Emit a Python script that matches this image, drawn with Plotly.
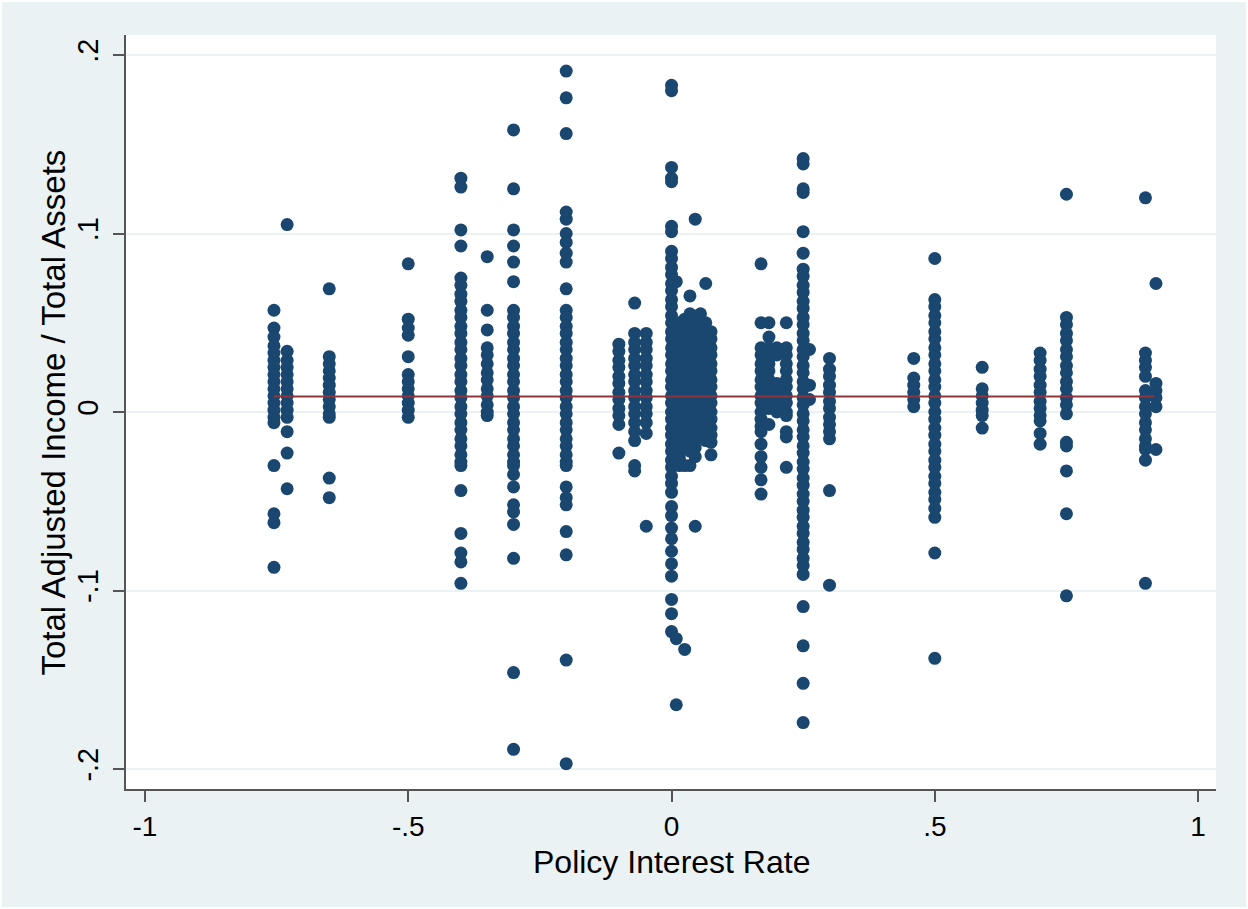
import plotly.graph_objects as go

# ---- data (policy rate -> list of income/asset ratios) ----
ratio_m0755 = [0.057, 0.047, 0.042, 0.037, 0.033, 0.029, 0.025, 0.021, 0.017, 0.013, 0.009, 0.005, 0.001, -0.003, -0.006, -0.030, -0.057, -0.062, -0.087]
ratio_m073 = [0.105, 0.034, 0.029, 0.025, 0.021, 0.017, 0.013, 0.009, 0.005, 0.001, -0.003, -0.011, -0.023, -0.043]
ratio_m065 = [0.069, 0.031, 0.027, 0.023, 0.019, 0.015, 0.011, 0.007, 0.003, -0.001, -0.003, -0.037, -0.048]
ratio_m050 = [0.083, 0.052, 0.047, 0.043, 0.031, 0.021, 0.017, 0.013, 0.009, 0.005, 0.001, -0.003]
ratio_m040 = [0.131, 0.126, 0.102, 0.093, 0.075, 0.071, 0.066, 0.062, 0.057, 0.053, 0.048, 0.044, 0.039, 0.035, 0.030, 0.026, 0.021, 0.017, 0.012, 0.008, 0.003, -0.001, -0.006, -0.010, -0.015, -0.019, -0.024, -0.028, -0.030, -0.044, -0.068, -0.079, -0.084, -0.096]
ratio_m035 = [0.087, 0.057, 0.046, 0.036, 0.032, 0.027, 0.022, 0.018, 0.013, 0.009, 0.004, 0.000, -0.002]
ratio_m030 = [0.158, 0.125, 0.102, 0.093, 0.084, 0.073, 0.057, 0.053, 0.048, 0.044, 0.039, 0.035, 0.030, 0.026, 0.021, 0.017, 0.012, 0.008, 0.003, -0.001, -0.006, -0.010, -0.015, -0.019, -0.024, -0.028, -0.030, -0.035, -0.042, -0.052, -0.056, -0.063, -0.082, -0.146, -0.189]
ratio_m020 = [0.191, 0.176, 0.156, 0.112, 0.108, 0.100, 0.095, 0.089, 0.084, 0.069, 0.057, 0.053, 0.048, 0.044, 0.039, 0.035, 0.030, 0.026, 0.021, 0.017, 0.012, 0.008, 0.003, -0.001, -0.006, -0.010, -0.015, -0.019, -0.024, -0.028, -0.030, -0.042, -0.048, -0.052, -0.067, -0.080, -0.139, -0.197]
ratio_m010 = [0.038, 0.034, 0.029, 0.025, 0.020, 0.016, 0.011, 0.007, 0.002, -0.002, -0.007, -0.023]
ratio_m007 = [0.061, 0.044, 0.039, 0.035, 0.030, 0.026, 0.021, 0.017, 0.012, 0.008, 0.003, -0.001, -0.006, -0.011, -0.016, -0.030, -0.033]
ratio_m005 = [0.044, 0.039, 0.035, 0.030, 0.026, 0.021, 0.017, 0.012, 0.008, 0.003, -0.001, -0.006, -0.012, -0.064]
ratio_000 = [0.183, 0.180, 0.137, 0.131, 0.129, 0.104, 0.101, 0.090, 0.086, 0.081, 0.077, 0.072, 0.068, 0.063, 0.059, 0.054, 0.050, 0.045, 0.041, 0.036, 0.032, 0.027, 0.023, 0.018, 0.014, 0.009, 0.005, 0.000, -0.004, -0.009, -0.013, -0.018, -0.022, -0.027, -0.031, -0.036, -0.040, -0.045, -0.053, -0.058, -0.065, -0.071, -0.078, -0.085, -0.092, -0.105, -0.113, -0.123]
ratio_0009 = [0.073, -0.127, -0.164]
ratio_0015 = [0.050, 0.046, 0.041, 0.037, 0.032, 0.028, 0.023, 0.019, 0.014, 0.010, 0.005, 0.001, -0.004, -0.008, -0.013, -0.017, -0.022, -0.026, -0.030]
ratio_0025 = [0.052, 0.047, 0.043, 0.038, 0.034, 0.029, 0.025, 0.020, 0.016, 0.011, 0.007, 0.002, -0.002, -0.007, -0.011, -0.016, -0.020, -0.030, -0.133]
ratio_0035 = [0.065, 0.055, 0.050, 0.046, 0.041, 0.037, 0.032, 0.028, 0.023, 0.019, 0.014, 0.010, 0.005, 0.001, -0.004, -0.008, -0.013, -0.017, -0.022, -0.030]
ratio_0045 = [0.108, 0.052, 0.048, 0.043, 0.039, 0.034, 0.030, 0.025, 0.021, 0.016, 0.012, 0.007, 0.003, -0.002, -0.006, -0.011, -0.015, -0.020, -0.025, -0.064]
ratio_0055 = [0.055, 0.051, 0.046, 0.042, 0.037, 0.033, 0.028, 0.024, 0.019, 0.015, 0.010, 0.006, 0.001, -0.003, -0.008, -0.011]
ratio_0065 = [0.072, 0.050, 0.046, 0.041, 0.037, 0.032, 0.028, 0.023, 0.019, 0.014, 0.010, 0.005, 0.001, -0.004, -0.008, -0.013, -0.016]
ratio_0075 = [0.045, 0.041, 0.036, 0.032, 0.027, 0.023, 0.018, 0.014, 0.009, 0.005, 0.000, -0.004, -0.009, -0.013, -0.017, -0.024]
ratio_017 = [0.083, 0.050, 0.036, 0.032, 0.027, 0.023, 0.018, 0.014, 0.009, 0.005, 0.000, -0.004, -0.008, -0.011, -0.018, -0.025, -0.031, -0.038, -0.046]
ratio_0185 = [0.050, 0.042, 0.036, 0.032, 0.027, 0.023, 0.018, 0.014, 0.009, 0.005, 0.002, -0.007]
ratio_020 = [0.036, 0.032, 0.016, 0.012, 0.008, 0.004, 0.000]
ratio_0218 = [0.050, 0.036, 0.032, 0.027, 0.023, 0.018, 0.014, 0.009, 0.005, 0.000, -0.002, -0.011, -0.014, -0.031]
ratio_025 = [0.142, 0.139, 0.125, 0.123, 0.101, 0.089, 0.080, 0.076, 0.071, 0.067, 0.062, 0.058, 0.053, 0.049, 0.044, 0.040, 0.035, 0.031, 0.026, 0.022, 0.017, 0.013, 0.008, 0.004, -0.001, -0.005, -0.010, -0.014, -0.019, -0.023, -0.028, -0.032, -0.037, -0.041, -0.046, -0.050, -0.055, -0.059, -0.064, -0.068, -0.073, -0.077, -0.082, -0.086, -0.091, -0.109, -0.131, -0.152, -0.174]
ratio_0262 = [0.035, 0.015, 0.007]
ratio_030 = [0.030, 0.024, 0.020, 0.015, 0.011, 0.006, 0.002, -0.003, -0.007, -0.011, -0.015, -0.044, -0.097]
ratio_046 = [0.030, 0.019, 0.015, 0.011, 0.007, 0.003]
ratio_050 = [0.086, 0.063, 0.059, 0.054, 0.050, 0.045, 0.041, 0.036, 0.032, 0.027, 0.023, 0.018, 0.014, 0.009, 0.005, 0.000, -0.004, -0.009, -0.013, -0.018, -0.022, -0.027, -0.031, -0.036, -0.040, -0.045, -0.049, -0.054, -0.059, -0.079, -0.138]
ratio_059 = [0.025, 0.013, 0.009, 0.005, 0.001, -0.002, -0.009]
ratio_070 = [0.033, 0.029, 0.024, 0.020, 0.015, 0.011, 0.006, 0.002, -0.002, -0.005, -0.012, -0.018]
ratio_075 = [0.122, 0.053, 0.049, 0.044, 0.040, 0.035, 0.031, 0.026, 0.022, 0.017, 0.013, 0.008, 0.004, -0.001, -0.017, -0.019, -0.033, -0.057, -0.103]
ratio_090 = [0.120, 0.033, 0.029, 0.025, 0.020, 0.012, 0.008, 0.003, -0.001, -0.006, -0.010, -0.015, -0.019, -0.021, -0.027, -0.096]
ratio_092 = [0.072, 0.016, 0.012, 0.008, 0.003, -0.021]

rates = [-0.755, -0.73, -0.65, -0.5, -0.4, -0.35, -0.3, -0.2, -0.1, -0.07, -0.048,
         0.0, 0.009, 0.015, 0.025, 0.035, 0.045, 0.055, 0.065, 0.075,
         0.17, 0.185, 0.2, 0.218, 0.25, 0.262, 0.3, 0.46, 0.5, 0.59, 0.7, 0.75, 0.9, 0.92]
ratio_groups = [ratio_m0755, ratio_m073, ratio_m065, ratio_m050, ratio_m040, ratio_m035, ratio_m030,
                ratio_m020, ratio_m010, ratio_m007, ratio_m005,
                ratio_000, ratio_0009, ratio_0015, ratio_0025, ratio_0035, ratio_0045, ratio_0055, ratio_0065, ratio_0075,
                ratio_017, ratio_0185, ratio_020, ratio_0218, ratio_025, ratio_0262, ratio_030, ratio_046,
                ratio_050, ratio_059, ratio_070, ratio_075, ratio_090, ratio_092]

fit_rate = [-0.755, 0.917]
fit_ratio = [0.0087, 0.0087]

x_ticks = [-1, -0.5, 0, 0.5, 1]
x_ticktext = ["-1", "-.5", "0", ".5", "1"]
y_ticks = [-0.2, -0.1, 0, 0.1, 0.2]
y_ticktext = ["-.2", "-.1", "0", ".1", ".2"]

x_title = "Policy Interest Rate"
y_title = "Total Adjusted Income / Total Assets"

# ---- build ----
xs, ys = [], []
for r, vals in zip(rates, ratio_groups):
    xs.extend([r] * len(vals))
    ys.extend(vals)

fig = go.Figure()
fig.add_trace(go.Scatter(x=xs, y=ys, mode="markers",
                         marker=dict(color="#1a476f", size=13, line=dict(width=0)),
                         hoverinfo="x+y"))
fig.add_trace(go.Scatter(x=fit_rate, y=fit_ratio, mode="lines",
                         line=dict(color="#90353b", width=2)))

axis_col = "#555555"
L, R, T, B = 126, 1216, 35, 789
PW, PH = R - L, B - T


def px_x(p):
    return (p - L) / PW


def px_y(p):
    return (B - p) / PH


fig.update_layout(
    width=1248, height=909,
    paper_bgcolor="#eaf2f3", plot_bgcolor="white",
    margin=dict(l=L, r=1248 - R, t=T, b=909 - B),
    showlegend=False,
    font=dict(family="Liberation Sans, Arial, sans-serif", color="black"),
    xaxis=dict(range=[-1.036, 1.034], tickvals=x_ticks, ticktext=x_ticktext,
               showgrid=False, zeroline=False, showline=True, linecolor=axis_col, linewidth=1.5,
               ticks="outside", ticklen=11, tickwidth=1.5, tickcolor=axis_col,
               tickfont=dict(size=28), ticklabelstandoff=1),
    yaxis=dict(range=[-0.2112, 0.2112], tickvals=y_ticks, ticktext=y_ticktext, tickangle=-90,
               showgrid=True, gridcolor="#eaf2f3", gridwidth=2, zeroline=False,
               showline=True, linecolor=axis_col, linewidth=1.5,
               ticks="outside", ticklen=11, tickwidth=1.5, tickcolor=axis_col,
               tickfont=dict(size=29), ticklabelstandoff=4),
    annotations=[
        dict(text=x_title, xref="paper", yref="paper", x=0.5, y=px_y(862),
             xanchor="center", yanchor="middle", showarrow=False, font=dict(size=32)),
        dict(text=y_title, xref="paper", yref="paper", x=px_x(53), y=px_y(412.5),
             xanchor="center", yanchor="middle", textangle=-90, showarrow=False, font=dict(size=33)),
    ],
    shapes=[dict(type="rect", xref="paper", yref="paper",
                 x0=px_x(1), x1=px_x(1247), y0=px_y(908), y1=px_y(1),
                 line=dict(color="white", width=2), layer="below")],
)

fig.write_html("out.html", config={"displayModeBar": False})

# remove the default page margin so the figure sits at the window origin
with open("out.html", "r", encoding="utf-8") as fh:
    html = fh.read()
html = html.replace("<body>", '<body style="margin:0;padding:0;overflow:hidden">', 1)
with open("out.html", "w", encoding="utf-8") as fh:
    fh.write(html)
